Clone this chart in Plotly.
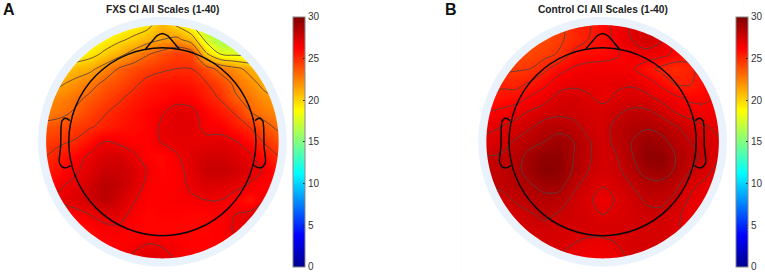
import numpy as np
import plotly.graph_objects as go

# Scalp-map readings (value per grid cell, top row = front of head)
fxs_rows = [
 [17.5,17.7,18.0,18.2,18.4,18.6,19.0,19.4,21.0,19.7,18.3,16.5,15.5,15.6,16.0,16.6,16.8],
 [18.0,18.1,18.3,18.5,19.0,19.6,20.2,21.0,21.6,22.0,20.8,17.8,15.9,15.8,16.3,16.8,17.0],
 [18.0,18.3,18.7,19.3,20.2,21.1,22.2,23.2,23.9,24.5,24.2,20.2,18.2,17.9,17.8,17.5,17.0],
 [19.5,20.0,20.8,21.2,22.2,23.4,24.0,24.5,24.8,25.0,25.0,24.0,22.8,22.0,21.2,20.5,20.0],
 [20.5,21.4,22.0,22.7,23.6,24.1,24.7,25.4,25.7,25.8,25.6,25.1,24.2,23.0,22.1,21.2,20.5],
 [22.0,22.4,22.9,23.6,24.2,24.8,25.4,25.8,26.0,26.3,26.2,25.5,24.9,23.5,22.8,22.0,21.5],
 [22.6,22.9,23.5,24.3,24.9,25.4,25.8,26.2,26.6,27.2,27.0,26.2,25.6,24.9,23.4,22.7,22.2],
 [23.8,24.0,24.5,24.9,25.3,25.7,25.9,26.2,26.9,27.1,27.1,26.4,26.3,25.6,25.0,23.8,23.0],
 [24.5,24.8,25.1,25.9,26.7,26.5,26.2,26.2,26.8,27.0,27.0,27.0,27.1,26.8,26.0,24.9,24.0],
 [25.0,25.6,26.2,26.9,27.4,27.5,26.9,26.2,26.0,26.6,27.2,27.5,27.6,27.3,26.9,25.9,25.0],
 [25.4,26.0,26.5,27.2,27.8,27.8,27.4,26.6,26.1,26.3,27.1,27.8,27.9,27.6,27.1,26.6,25.8],
 [26.0,26.6,27.0,27.6,28.3,28.0,27.3,26.4,26.2,26.3,26.9,27.3,27.2,27.0,26.6,26.2,26.0],
 [26.9,26.9,27.2,27.6,28.2,27.6,26.8,26.2,26.3,26.4,26.5,26.7,26.7,26.2,25.7,26.6,27.0],
 [26.0,26.2,26.3,26.7,27.1,27.1,26.4,26.1,26.2,26.2,26.1,26.1,26.3,26.7,27.0,27.2,27.2],
 [25.6,25.8,25.9,26.0,26.4,26.5,26.2,26.1,26.1,26.1,26.1,26.1,26.3,26.8,27.1,27.2,27.2],
 [25.6,25.8,25.9,26.0,26.1,26.2,26.4,26.7,26.6,26.4,26.2,26.2,26.3,26.6,27.0,27.0,27.0],
 [25.6,25.8,25.9,26.0,26.2,26.5,26.9,27.2,27.0,26.6,26.3,26.2,26.3,26.5,26.8,27.0,27.0],
]
control_rows = [
 [24.0,24.0,24.0,24.0,24.0,24.4,25.1,25.4,25.9,26.7,27.2,27.5,27.4,26.8,26.5,26.2,26.2],
 [24.0,24.0,24.0,24.0,24.1,24.5,25.1,25.5,25.9,26.5,27.1,27.6,27.2,26.2,25.8,25.8,25.8],
 [24.0,24.0,24.0,24.2,24.4,24.8,25.7,25.9,26.0,26.2,26.7,26.8,26.6,26.1,25.8,25.8,25.8],
 [24.2,24.4,24.6,24.7,25.3,26.0,26.4,26.6,26.6,26.6,26.4,25.8,25.3,25.0,25.3,25.9,26.2],
 [24.9,25.3,25.2,25.6,26.1,26.7,26.9,26.9,26.8,27.0,27.0,26.7,26.1,25.4,25.4,26.0,26.4],
 [25.4,25.8,25.9,26.4,26.8,27.4,27.5,27.2,26.9,27.2,27.4,27.3,26.9,26.5,26.1,26.1,26.5],
 [26.3,26.5,26.8,27.2,27.5,27.7,27.6,27.5,27.4,27.8,28.1,28.1,27.7,27.1,26.8,26.6,26.5],
 [27.0,27.1,27.4,27.8,28.3,28.4,28.2,27.6,27.5,28.2,28.5,28.6,28.4,28.0,27.5,27.2,26.9],
 [27.2,27.5,28.0,28.4,28.7,29.1,28.7,28.0,27.5,28.2,28.7,29.2,29.0,28.4,27.9,27.5,27.2],
 [27.9,28.0,28.3,29.0,29.5,29.5,28.7,28.0,27.5,27.9,28.6,29.5,29.5,28.7,28.2,27.7,27.2],
 [28.0,28.1,28.4,29.1,29.7,29.5,28.6,27.9,27.5,27.7,28.4,29.0,29.2,28.6,27.9,27.4,26.8],
 [28.0,28.1,28.4,28.6,29.0,29.0,28.1,27.5,27.15,27.5,27.9,28.4,28.4,28.1,27.3,26.9,26.8],
 [27.5,27.5,28.0,28.3,28.4,28.3,27.7,27.3,26.7,27.2,27.6,28.0,28.1,27.7,27.0,26.8,26.7],
 [27.1,27.3,27.5,27.8,28.1,27.8,27.6,27.5,27.1,27.3,27.5,27.7,27.7,27.3,26.8,26.7,26.7],
 [27.2,27.3,27.4,27.5,27.6,27.5,27.5,27.5,27.5,27.5,27.5,27.5,27.5,27.2,26.9,26.7,26.7],
 [27.4,27.4,27.5,27.5,27.5,27.4,27.1,26.8,26.8,27.1,27.5,27.5,27.5,27.4,27.0,26.7,26.7],
 [27.4,27.4,27.4,27.4,27.4,27.0,26.8,26.6,26.6,26.8,27.3,27.5,27.5,27.4,27.0,26.7,26.7],
]
titles = ["FXS CI All Scales (1-40)", "Control CI All Scales (1-40)"]
panel_labels = ["A", "B"]
levels = [dict(start=18.2, end=26.7, size=1.7), dict(start=24.7, end=28.7, size=0.8)]

W, H = 765, 272
R = 116.7                # disc radius, px
CY = 141.7
centers = [163.0, 605.0]
cbar_left = [294.0, 738.5]
span = CY / R            # half range of axes in head units

jet = [[0, "rgb(0,0,143)"], [0.125, "rgb(0,0,255)"], [0.375, "rgb(0,255,255)"],
       [0.625, "rgb(255,255,0)"], [0.875, "rgb(255,0,0)"], [1, "rgb(128,0,0)"]]

grid = np.linspace(-1, 1, 17)
theta = np.linspace(0, 2 * np.pi, 241)[:-1]

def ring(r):
    pts = " L".join(f"{r*np.cos(t):.4f},{r*np.sin(t):.4f}" for t in theta)
    return f"M{pts} Z"

def poly(xs, ys):
    return "M" + " L".join(f"{x:.3f},{y:.3f}" for x, y in zip(xs, ys))

nose_x = [-0.145, -0.05, -0.025, 0.0, 0.025, 0.05, 0.145]
nose_y = [0.795, 0.905, 0.92, 0.927, 0.92, 0.905, 0.795]
ear_x = [0.797, 0.82, 0.845, 0.866, 0.872, 0.875, 0.888, 0.885, 0.865, 0.84, 0.815, 0.79]
ear_y = [0.18, 0.198, 0.2, 0.175, 0.12, -0.043, -0.157, -0.185, -0.215, -0.225, -0.22, -0.205]

fig = go.Figure()
shapes, annotations = [], []
for k, rows in enumerate([fxs_rows, control_rows]):
    suffix = "" if k == 0 else "2"
    xa, ya = "x" + suffix, "y" + suffix
    fig.add_trace(go.Heatmap(
        z=rows, x=grid, y=grid[::-1], xaxis=xa, yaxis=ya,
        colorscale=jet, zmin=0, zmax=30, zsmooth="best", hoverinfo="skip",
        colorbar=dict(
            x=cbar_left[k] / W, xanchor="left", xpad=0, ypad=0,
            y=1 - 16.7 / H, yanchor="top", len=250, lenmode="pixels",
            thickness=12, thicknessmode="pixels",
            tickmode="linear", tick0=0, dtick=5, ticklabeloverflow="allow",
            ticks="inside", ticklen=2, tickwidth=1, tickcolor="#222",
            tickfont=dict(family="Liberation Sans", size=10, color="#333"),
            outlinecolor="#888", outlinewidth=1, borderwidth=0,
        ),
    ))
    fig.add_trace(go.Contour(
        z=rows, x=grid, y=grid[::-1], xaxis=xa, yaxis=ya, showscale=False,
        autocontour=False, contours=dict(coloring="none", showlines=True, **levels[k]),
        line=dict(color="rgba(85,65,65,0.85)", width=1, smoothing=1.0),
        hoverinfo="skip",
    ))
    axis = dict(visible=False, showgrid=False, zeroline=False, fixedrange=True)
    dom_x = [(centers[k] - span * R) / W, (centers[k] + span * R) / W]
    fig.update_layout({
        f"xaxis{suffix}": dict(axis, range=[-span, span], domain=dom_x, anchor=ya),
        f"yaxis{suffix}": dict(axis, range=[span - H / R, span], domain=[0, 1], anchor=xa),
    })
    # white mask outside the pale ring, pale ring, head outline
    big = 3
    mask = f"M{-big},{-big} L{big},{-big} L{big},{big} L{-big},{big} Z {ring(1.0)}"
    outside = f"M{-big},{-big} L{big},{-big} L{big},{big} L{-big},{big} Z {ring(1.07)}"
    for path, fill in [(mask, "#eaf3fc"), (outside, "#ffffff")]:
        shapes.append(dict(type="path", path=path, xref=xa, yref=ya, fillcolor=fill,
                           fillrule="evenodd", line=dict(width=0), layer="above"))
    head = dict(color="#0a0a0a", width=1.5)
    shapes.append(dict(type="circle", xref=xa, yref=ya, x0=-0.805, x1=0.805, y0=-0.805, y1=0.805,
                       line=head, layer="above"))
    shapes.append(dict(type="path", path=poly(nose_x, nose_y), xref=xa, yref=ya, line=head, layer="above"))
    shapes.append(dict(type="path", path=poly(ear_x, ear_y), xref=xa, yref=ya, line=head, layer="above"))
    shapes.append(dict(type="path", path=poly([-v for v in ear_x], ear_y), xref=xa, yref=ya, line=head, layer="above"))
    annotations.append(dict(text=f"<b>{titles[k]}</b>", xref="paper", yref="paper",
                            x=centers[k] / W, y=1 - 9.3 / H, xanchor="center", yanchor="middle",
                            showarrow=False, font=dict(family="Liberation Sans", size=10.2, color="#222")))

annotations.append(dict(text=f"<b>{panel_labels[0]}</b>", xref="paper", yref="paper", x=1.5 / W, y=1 - 10 / H,
                        xanchor="left", yanchor="middle", showarrow=False,
                        font=dict(family="Liberation Sans", size=16, color="#111")))
annotations.append(dict(text=f"<b>{panel_labels[1]}</b>", xref="paper", yref="paper", x=444.5 / W, y=1 - 10 / H,
                        xanchor="left", yanchor="middle", showarrow=False,
                        font=dict(family="Liberation Sans", size=16, color="#111")))

fig.update_layout(width=W, height=H, margin=dict(l=0, r=0, t=0, b=0), autosize=False,
                  paper_bgcolor="white", plot_bgcolor="white", shapes=shapes, annotations=annotations,
                  showlegend=False)
fig.write_html("out.html", config={"displayModeBar": False},
               post_script="document.body.style.margin='0';document.documentElement.style.overflow='hidden';")
